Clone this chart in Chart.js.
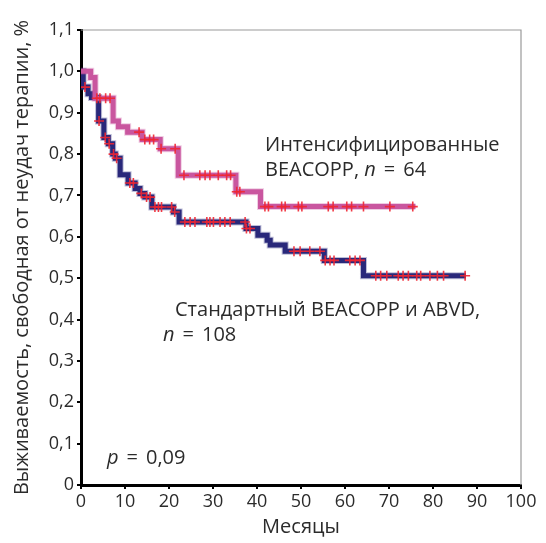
<!DOCTYPE html>
<html>
<head>
<meta charset="utf-8">
<script src="https://cdn.jsdelivr.net/npm/chart.js@4/dist/chart.umd.min.js"></script>
<style>
  html, body { margin: 0; padding: 0; background: #fff; }
  #wrap { width: 546px; height: 543px; position: relative; }
</style>
</head>
<body>
<div id="wrap"><canvas id="km"></canvas></div>
<script>
// Kaplan–Meier step curves: time of each step (months) and survival after it
const intensTimes = [0, 2.2, 3.2, 7.3, 8.5, 10.6, 13.9, 18.0, 22.1, 35.2, 40.8, 76.0];
const intensSurv  = [1.0, 0.985, 0.935, 0.88, 0.866, 0.853, 0.835, 0.813, 0.749, 0.709, 0.673, 0.673];
const intensCensored = [3.6, 4.3, 5.6, 6.6, 13.2, 14.5, 15.6, 16.5, 18.2, 21.4, 23.4, 27.0, 28.2,
  29.3, 31.2, 33.1, 34.0, 35.4, 36.1, 41.8, 42.6, 45.6, 46.4, 49.4, 50.2, 56.2, 57.3, 60.4,
  61.5, 64.2, 70.2, 75.4];

const standTimes = [0, 0.5, 1.6, 2.4, 4.0, 5.2, 6.2, 7.2, 7.8, 8.9, 10.7, 12.3, 13.4, 14.5, 16.1,
  21.0, 22.3, 37.5, 40.2, 42.3, 43.0, 46.4, 55.3, 64.2, 87.5];
const standSurv = [1.0, 0.962, 0.946, 0.937, 0.88, 0.84, 0.825, 0.80, 0.79, 0.75, 0.73, 0.717, 0.705,
  0.696, 0.672, 0.66, 0.636, 0.62, 0.604, 0.592, 0.58, 0.565, 0.543, 0.506, 0.506];
const standCensored = [0.9, 4.1, 5.5, 6.4, 7.4, 8.1, 11.1, 11.9, 13.7, 14.9, 15.7, 16.8, 17.6, 18.3,
  20.6, 21.3, 23.6, 24.8, 25.9, 28.6, 29.3, 30.1, 31.6, 32.7, 33.9, 37.3, 37.6, 38.4, 48.4, 49.8,
  52.0, 54.3, 55.5, 56.6, 57.5, 61.1, 62.3, 63.4, 67.0, 68.1, 69.5, 72.1, 73.2, 74.4, 76.3, 77.2,
  79.3, 81.0, 82.4, 87.3];

const xTicks = [0, 10, 20, 30, 40, 50, 60, 70, 80, 90, 100];
const yTicks = [0, 0.1, 0.2, 0.3, 0.4, 0.5, 0.6, 0.7, 0.8, 0.9, 1.0, 1.1];

const FONT = "'Open Sans', 'Noto Sans', sans-serif";
const TEXT = '#2b2b2b';

function curvePoints(times, surv) {
  return times.map((t, i) => ({ x: t, y: surv[i] }));
}
// survival level of a step curve at time t (censor marks sit on the curve)
function levelAt(times, surv, t) {
  let v = surv[0];
  for (let i = 0; i < times.length; i++) { if (times[i] <= t) v = surv[i]; }
  return v;
}
function censorPoints(times, surv, cens) {
  return cens.map(t => ({ x: t, y: levelAt(times, surv, t) }));
}
function stepLine(times, surv, color, width, order) {
  return {
    data: curvePoints(times, surv), showLine: true, stepped: 'before',
    borderColor: color, borderWidth: width, pointRadius: 0, fill: false, order
  };
}

const frame = {
  id: 'frame',
  afterDatasetsDraw(chart) {
    const { ctx, chartArea: a } = chart;
    ctx.save();
    ctx.strokeStyle = '#9a9a9a';
    ctx.lineWidth = 1.2;
    ctx.beginPath();
    ctx.moveTo(a.left, a.top);
    ctx.lineTo(a.right, a.top);
    ctx.lineTo(a.right, a.bottom);
    ctx.stroke();
    ctx.restore();
  }
};

// text annotations; each line is a list of [text, italic] runs
const notes = [
  { x: 265, y: 145, runs: [['Интенсифицированные', false]] },
  { x: 265, y: 170, runs: [['BEACOPP, ', false], ['n', true], ['\u2009=\u200964', false]] },
  { x: 175, y: 310, runs: [['Стандартный BEACOPP и ABVD,', false]] },
  { x: 163, y: 335, runs: [['n', true], ['\u2009=\u2009108', false]] },
  { x: 107, y: 458, runs: [['p', true], ['\u2009=\u20090,09', false]] }
];
const labels = {
  id: 'labels',
  afterDraw(chart) {
    const ctx = chart.ctx;
    ctx.save();
    ctx.fillStyle = TEXT;
    ctx.textBaseline = 'middle';
    ctx.textAlign = 'left';
    notes.forEach(n => {
      let x = n.x;
      n.runs.forEach(([s, it]) => {
        ctx.font = (it ? 'italic ' : '') + '20px ' + FONT;
        // the equals sign is set with a little extra room on both sides
        const parts = s.split('\u2009');
        parts.forEach((p, i) => {
          if (i > 0) x += 8;
          ctx.fillText(p, x, n.y);
          x += ctx.measureText(p).width;
        });
      });
    });
    ctx.restore();
  }
};

new Chart(document.getElementById('km'), {
  type: 'scatter',
  data: {
    datasets: [
      {
        data: censorPoints(intensTimes, intensSurv, intensCensored),
        pointStyle: 'cross', pointRadius: 5, borderWidth: 1.6,
        borderColor: 'rgba(240,38,50,0.9)', showLine: false, order: 0
      },
      {
        data: censorPoints(standTimes, standSurv, standCensored),
        pointStyle: 'cross', pointRadius: 5, borderWidth: 1.6,
        borderColor: 'rgba(240,38,50,0.9)', showLine: false, order: 0
      },
      stepLine(intensTimes, intensSurv, '#c9569f', 5, 1),
      stepLine(intensTimes, intensSurv, 'rgba(201,86,159,0.3)', 7, 2),
      stepLine(standTimes, standSurv, '#29287a', 5, 3),
      stepLine(standTimes, standSurv, 'rgba(41,40,122,0.3)', 7, 4)
    ]
  },
  options: {
    responsive: true,
    maintainAspectRatio: false,
    animation: false,
    layout: { padding: { left: 10, right: 25, top: 30, bottom: 4 } },
    plugins: { legend: { display: false }, tooltip: { enabled: false } },
    scales: {
      x: {
        type: 'linear', min: 0, max: 100,
        afterBuildTicks: s => { s.ticks = xTicks.map(v => ({ value: v })); },
        afterFit: s => { s.height = 54; },
        ticks: { font: { family: FONT, size: 18 }, color: TEXT, padding: 2, maxRotation: 0 },
        grid: { drawOnChartArea: false, drawTicks: true, tickLength: 4, color: '#000', lineWidth: 2 },
        border: { display: true, color: '#000', width: 3 },
        title: { display: true, text: 'Месяцы', font: { family: FONT, size: 20 }, color: TEXT, padding: 0 }
      },
      y: {
        type: 'linear', min: 0, max: 1.1,
        afterBuildTicks: s => { s.ticks = yTicks.map(v => ({ value: v })); },
        afterFit: s => { s.width = 71; },
        ticks: {
          font: { family: FONT, size: 18 }, color: TEXT, padding: 3,
          callback: v => (v === 0 ? '0' : v.toFixed(1).replace('.', ','))
        },
        grid: { drawOnChartArea: false, drawTicks: true, tickLength: 4, color: '#000', lineWidth: 2 },
        border: { display: true, color: '#000', width: 3 },
        title: {
          display: true, text: 'Выживаемость, свободная от неудач терапии, %',
          font: { family: FONT, size: 20 }, color: TEXT, padding: 0
        }
      }
    }
  },
  plugins: [frame, labels]
});
</script>
</body>
</html>
